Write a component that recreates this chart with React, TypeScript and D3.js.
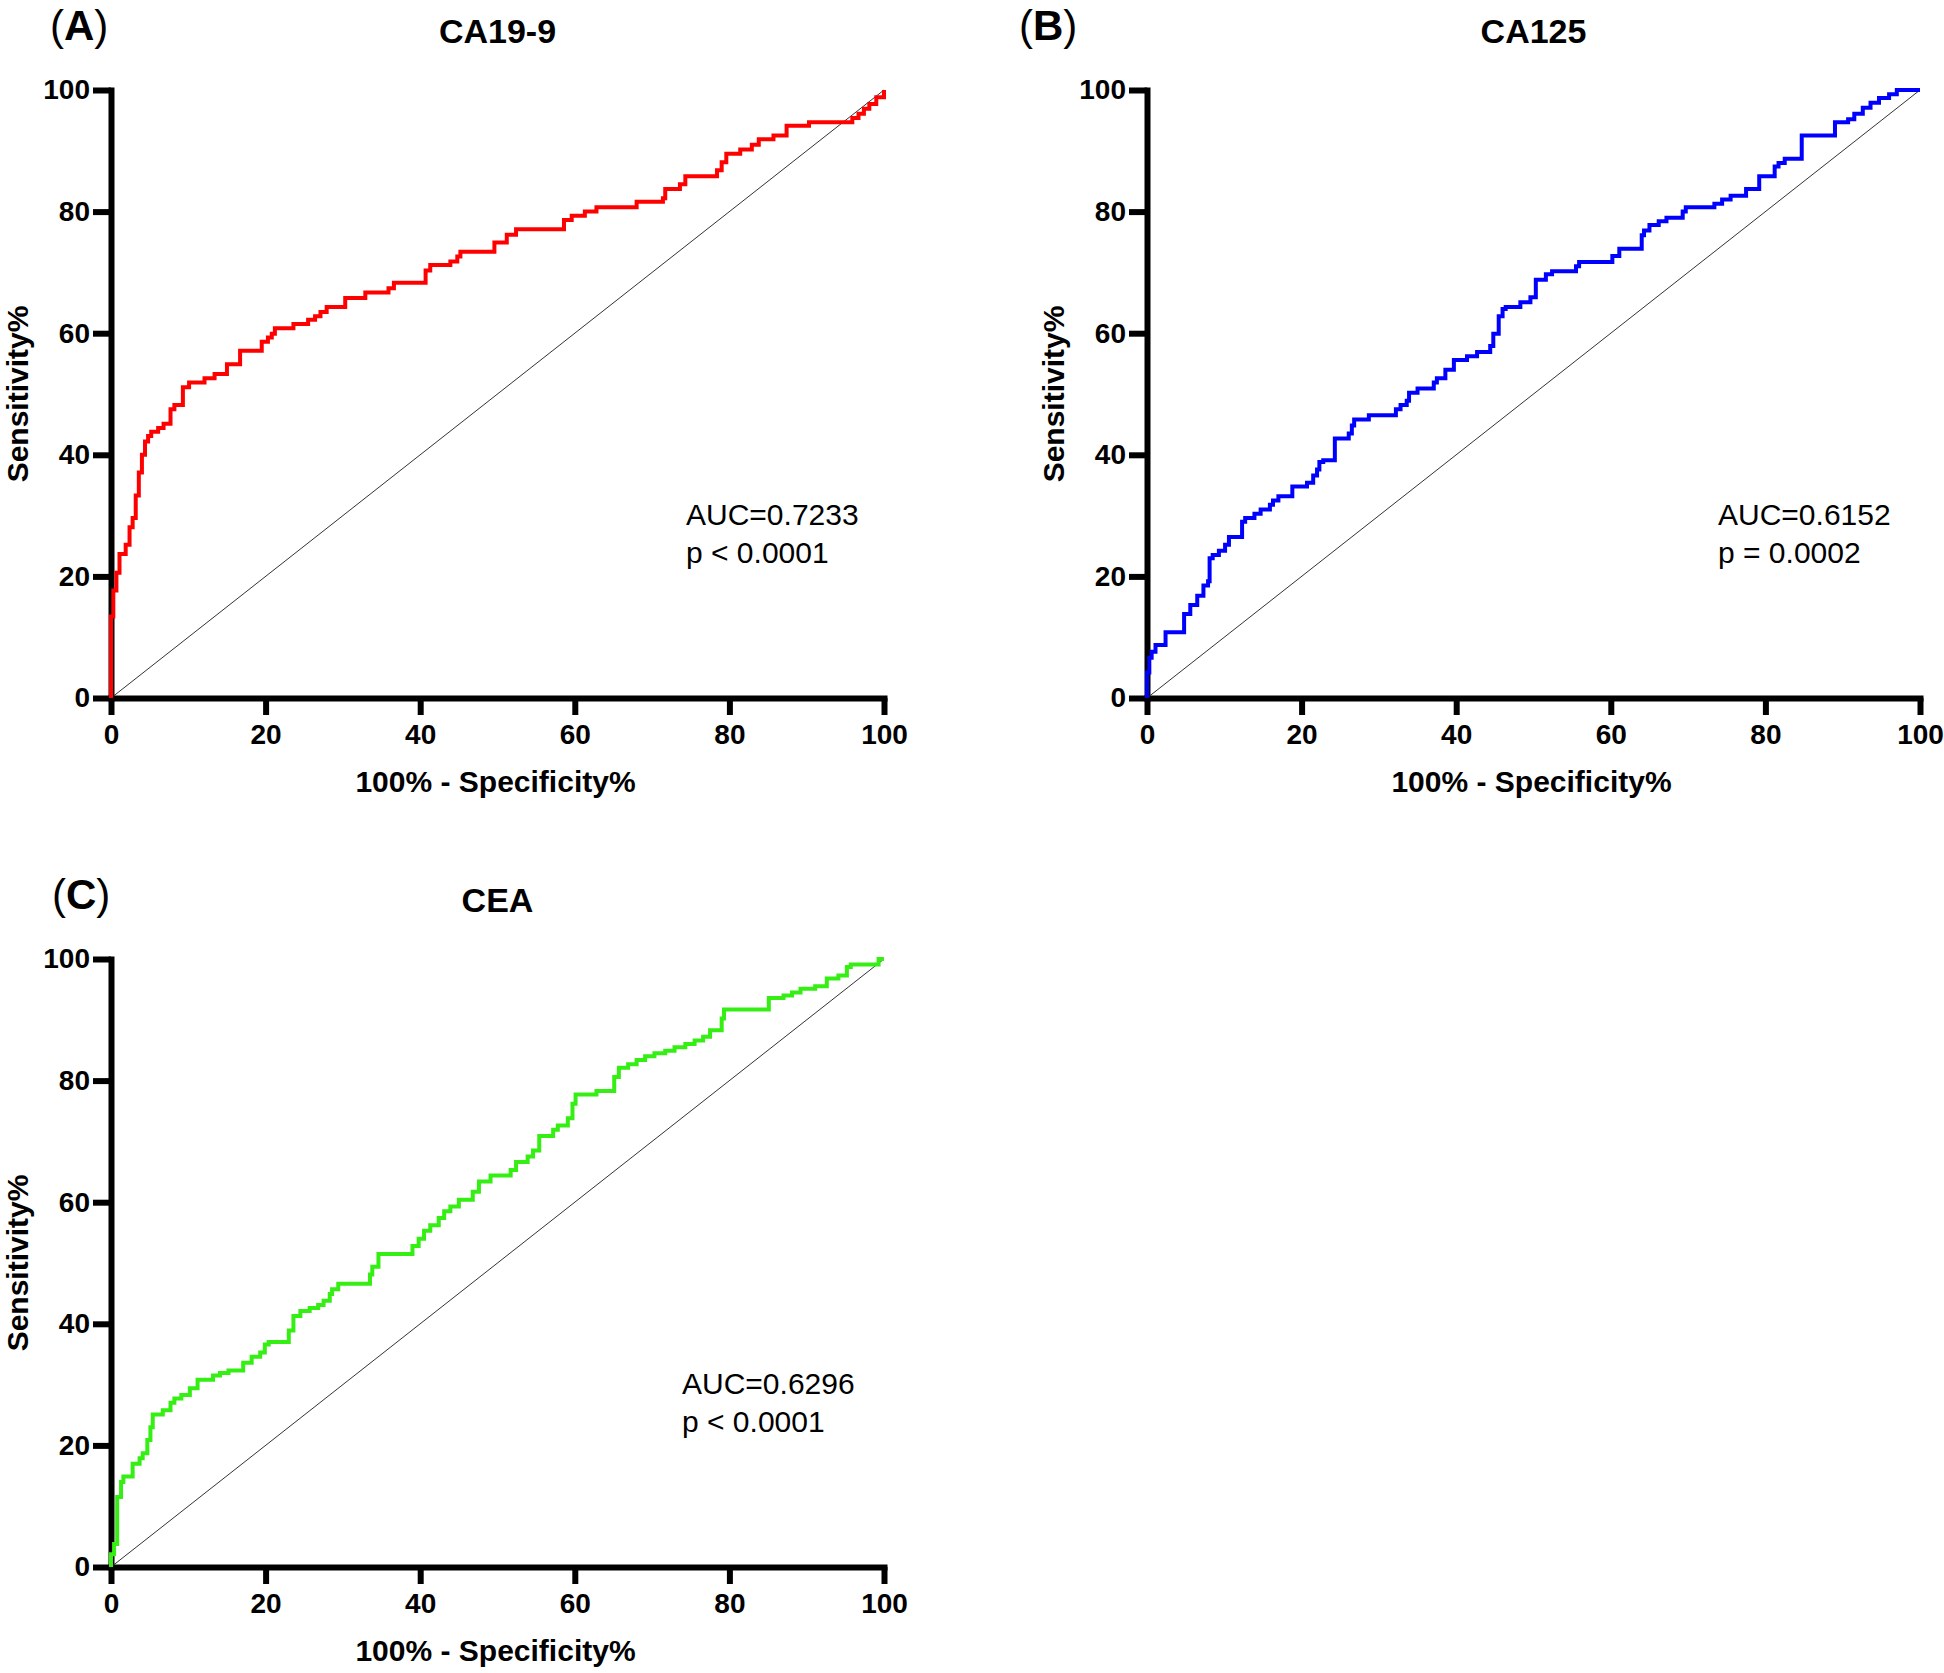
import React, { useEffect, useRef } from 'react';
import * as d3 from 'd3';

const tickValues = [0, 20, 40, 60, 80, 100];

// ROC vertices: [100% - Specificity%, Sensitivity%] (step after each point)
const ca199Roc: [number, number][] = [
  [0, 0], [0, 13.4], [0.3, 17.7], [0.7, 20.6], [1.1, 23.7], [1.9, 25.2], [2.4, 28.1], [2.8, 29.6],
  [3.2, 33.3], [3.6, 37.1], [4.0, 40.0], [4.4, 42.2], [4.8, 43.1], [5.2, 43.8], [6.1, 44.4], [6.8, 45.1],
  [7.7, 47.5], [8.2, 48.2], [9.3, 51.1], [10.1, 51.9], [12.1, 52.6], [13.4, 53.3], [15.0, 54.9],
  [16.7, 57.1], [19.5, 58.6], [20.3, 59.3], [20.8, 59.9], [21.2, 60.8], [23.6, 61.5], [25.5, 62.2],
  [26.4, 62.8], [27.1, 63.5], [27.9, 64.3], [30.3, 65.8], [32.9, 66.7], [35.9, 67.4], [36.6, 68.3],
  [40.7, 70.3], [41.3, 71.2], [43.9, 71.8], [44.8, 72.6], [45.2, 73.4], [49.6, 74.9], [51.2, 76.2],
  [52.4, 77.1], [58.6, 78.6], [59.6, 79.3], [61.3, 80.0], [62.8, 80.7], [68.0, 81.6], [71.4, 82.2],
  [71.7, 83.7], [73.6, 84.5], [74.3, 85.8], [78.4, 86.8], [79.0, 88.1], [79.6, 89.5], [81.4, 90.2],
  [82.9, 91.0], [83.8, 91.9], [85.7, 92.5], [87.4, 94.1], [90.3, 94.7], [95.9, 95.4], [96.7, 96.1],
  [97.4, 96.9], [98.1, 97.7], [99.0, 98.8], [100, 100],
];

const ca125Roc: [number, number][] = [
  [0, 0], [0, 4.2], [0.3, 6.6], [0.6, 7.6], [1.1, 8.7], [2.4, 10.8], [4.8, 13.8], [5.6, 15.3],
  [6.5, 16.8], [7.3, 18.5], [7.9, 19.2], [8.1, 23.0], [8.5, 23.5], [9.3, 24.2], [10.1, 25.2],
  [10.6, 26.5], [12.3, 29.0], [12.7, 29.6], [13.9, 30.3], [14.7, 31.0], [15.9, 31.8], [16.3, 32.5],
  [17.0, 33.2], [18.8, 34.8], [20.7, 35.4], [21.5, 36.6], [22.0, 37.6], [22.3, 38.8], [22.8, 39.1],
  [24.3, 42.7], [26.1, 43.5], [26.5, 44.8], [26.8, 45.8], [28.7, 46.5], [32.2, 47.5], [32.8, 48.2],
  [33.6, 48.9], [33.9, 50.2], [35.0, 50.9], [37.1, 51.9], [37.5, 52.6], [38.6, 54.0], [39.7, 55.6],
  [41.4, 56.2], [42.7, 56.9], [44.4, 57.9], [44.8, 59.9], [45.5, 62.8], [46.0, 64.0], [46.4, 64.3],
  [48.3, 65.1], [49.6, 65.9], [50.3, 68.8], [51.6, 69.7], [52.4, 70.2], [55.5, 71.0], [55.9, 71.7],
  [60.2, 72.7], [61.1, 73.9], [64.0, 76.1], [64.3, 76.9], [65.0, 77.8], [66.2, 78.4], [67.2, 79.0],
  [69.3, 80.0], [69.7, 80.7], [73.4, 81.3], [74.4, 82.0], [75.5, 82.6], [77.5, 83.7], [79.2, 85.8],
  [81.2, 87.4], [81.7, 88.0], [82.5, 88.7], [84.7, 92.5], [89.0, 94.7], [90.7, 95.2], [91.5, 96.1],
  [92.6, 97.1], [93.6, 97.9], [94.7, 98.7], [96.0, 99.3], [97.0, 100], [100, 100],
];

const ceaRoc: [number, number][] = [
  [0, 0], [0, 2.1], [0.4, 3.8], [0.8, 11.5], [1.3, 14.0], [1.6, 14.9], [2.8, 17.0], [3.7, 17.9],
  [4.1, 18.7], [4.7, 20.9], [5.1, 23.0], [5.4, 25.1], [6.7, 25.8], [7.7, 27.0], [8.2, 27.7],
  [9.1, 28.3], [10.2, 29.4], [11.2, 30.8], [13.2, 31.5], [14.1, 31.9], [15.2, 32.3], [17.1, 33.6],
  [18.2, 34.6], [19.3, 35.3], [19.9, 36.6], [20.4, 37.0], [23.0, 38.9], [23.6, 41.3], [24.5, 42.1],
  [25.7, 42.6], [26.8, 43.1], [27.5, 43.8], [28.3, 44.9], [28.6, 45.7], [29.4, 46.6], [33.5, 48.1],
  [33.8, 49.4], [34.6, 51.5], [39.0, 52.8], [39.8, 54.0], [40.5, 55.3], [41.3, 56.2], [42.4, 57.4],
  [43.1, 58.5], [43.9, 59.3], [45.0, 60.4], [46.8, 61.7], [47.6, 63.4], [49.1, 64.4], [51.7, 65.3],
  [52.4, 66.6], [53.9, 67.5], [54.6, 68.5], [55.4, 70.9], [57.2, 71.9], [57.8, 72.6], [59.1, 73.8],
  [59.7, 76.2], [60.1, 77.7], [62.8, 78.3], [65.1, 80.6], [65.7, 82.1], [66.9, 82.7], [68.0, 83.4],
  [69.1, 84.0], [70.3, 84.5], [71.7, 84.9], [72.9, 85.5], [74.3, 86.0], [75.5, 86.6], [76.6, 87.2],
  [77.5, 88.3], [79.0, 90.2], [79.3, 91.7], [85.1, 93.6], [87.0, 94.0], [88.1, 94.5], [89.2, 95.1],
  [91.1, 95.5], [92.6, 96.8], [94.1, 97.3], [95.2, 98.7], [95.7, 99.1], [99.3, 100], [100, 100],
];

const panelLetters = ['A', 'B', 'C'];
const panelTitles = ['CA19-9', 'CA125', 'CEA'];
const aucLabels = ['AUC=0.7233', 'AUC=0.6152', 'AUC=0.6296'];
const pLabels = ['p < 0.0001', 'p = 0.0002', 'p < 0.0001'];
const curveColors = ['#ff0000', '#0000ff', '#35ee14'];
const rocData = [ca199Roc, ca125Roc, ceaRoc];

// layout (pixels)
const layout = [
  { left: 111, top: 90, letterX: 50, aucX: 686 },
  { left: 1147, top: 90, letterX: 1019, aucX: 1718 },
  { left: 111, top: 959, letterX: 52, aucX: 682 },
];
const plotW = 773;
const plotH = 608;
const FONT = '"Liberation Sans", Arial, Helvetica, sans-serif';

export default function App() {
  const ref = useRef<SVGSVGElement>(null);

  useEffect(() => {
    const svg = d3.select(ref.current);
    svg.selectAll('*').remove();

    layout.forEach((L, i) => {
      const x = d3.scaleLinear().domain([0, 100]).range([0, plotW]);
      const y = d3.scaleLinear().domain([0, 100]).range([plotH, 0]);
      const g = svg.append('g').attr('transform', `translate(${L.left},${L.top})`);

      // axes
      const xAxis = g.append('g').attr('transform', `translate(0,${plotH})`)
        .call(d3.axisBottom(x).tickValues(tickValues).tickSize(17).tickSizeOuter(0).tickPadding(9));
      const yAxis = g.append('g')
        .call(d3.axisLeft(y).tickValues(tickValues).tickSize(18).tickSizeOuter(0).tickPadding(3));
      [xAxis, yAxis].forEach((ax) => {
        ax.select('.domain').attr('stroke', '#000').attr('stroke-width', 6).attr('stroke-linecap', 'square');
        ax.selectAll('.tick line').attr('stroke', '#000').attr('stroke-width', 6);
        ax.selectAll('.tick text')
          .attr('fill', '#000')
          .style('font-family', FONT)
          .style('font-size', '28px')
          .style('font-weight', 'bold');
      });

      // diagonal reference
      g.append('line')
        .attr('x1', x(0)).attr('y1', y(0)).attr('x2', x(100)).attr('y2', y(100))
        .attr('stroke', '#333').attr('stroke-width', 1);

      // ROC curve
      const line = d3.line<[number, number]>()
        .x((d) => x(d[0]))
        .y((d) => y(d[1]))
        .curve(d3.curveStepAfter);
      g.append('path')
        .datum(rocData[i])
        .attr('d', line)
        .attr('fill', 'none')
        .attr('stroke', curveColors[i])
        .attr('stroke-width', 4)
        .attr('stroke-linejoin', 'miter');

      // titles
      g.append('text')
        .attr('x', plotW / 2).attr('y', -47)
        .attr('text-anchor', 'middle')
        .style('font-family', FONT).style('font-size', '34px').style('font-weight', 'bold')
        .text(panelTitles[i]);

      g.append('text')
        .attr('x', plotW / 2 - 2).attr('y', plotH + 94)
        .attr('text-anchor', 'middle')
        .style('font-family', FONT).style('font-size', '30px').style('font-weight', 'bold')
        .text('100% - Specificity%');

      g.append('text')
        .attr('transform', `translate(${-83},${plotH / 2}) rotate(-90)`)
        .attr('text-anchor', 'middle')
        .style('font-family', FONT).style('font-size', '30px').style('font-weight', 'bold')
        .text('Sensitivity%');

      // AUC annotation
      const ann = svg.append('text')
        .style('font-family', FONT).style('font-size', '30px');
      ann.append('tspan').attr('x', L.aucX).attr('y', L.top + 435).text(aucLabels[i]);
      ann.append('tspan').attr('x', L.aucX).attr('y', L.top + 473).text(pLabels[i]);

      // panel letter
      const lt = svg.append('text')
        .attr('x', L.letterX).attr('y', L.top - 50)
        .style('font-family', FONT).style('font-size', '42px');
      lt.append('tspan').text('(');
      lt.append('tspan').style('font-weight', 'bold').text(panelLetters[i]);
      lt.append('tspan').text(')');
    });
  }, []);

  return (
    <svg
      ref={ref}
      width={1944}
      height={1673}
      style={{ position: 'absolute', left: 0, top: 0, background: '#fff' }}
    />
  );
}
